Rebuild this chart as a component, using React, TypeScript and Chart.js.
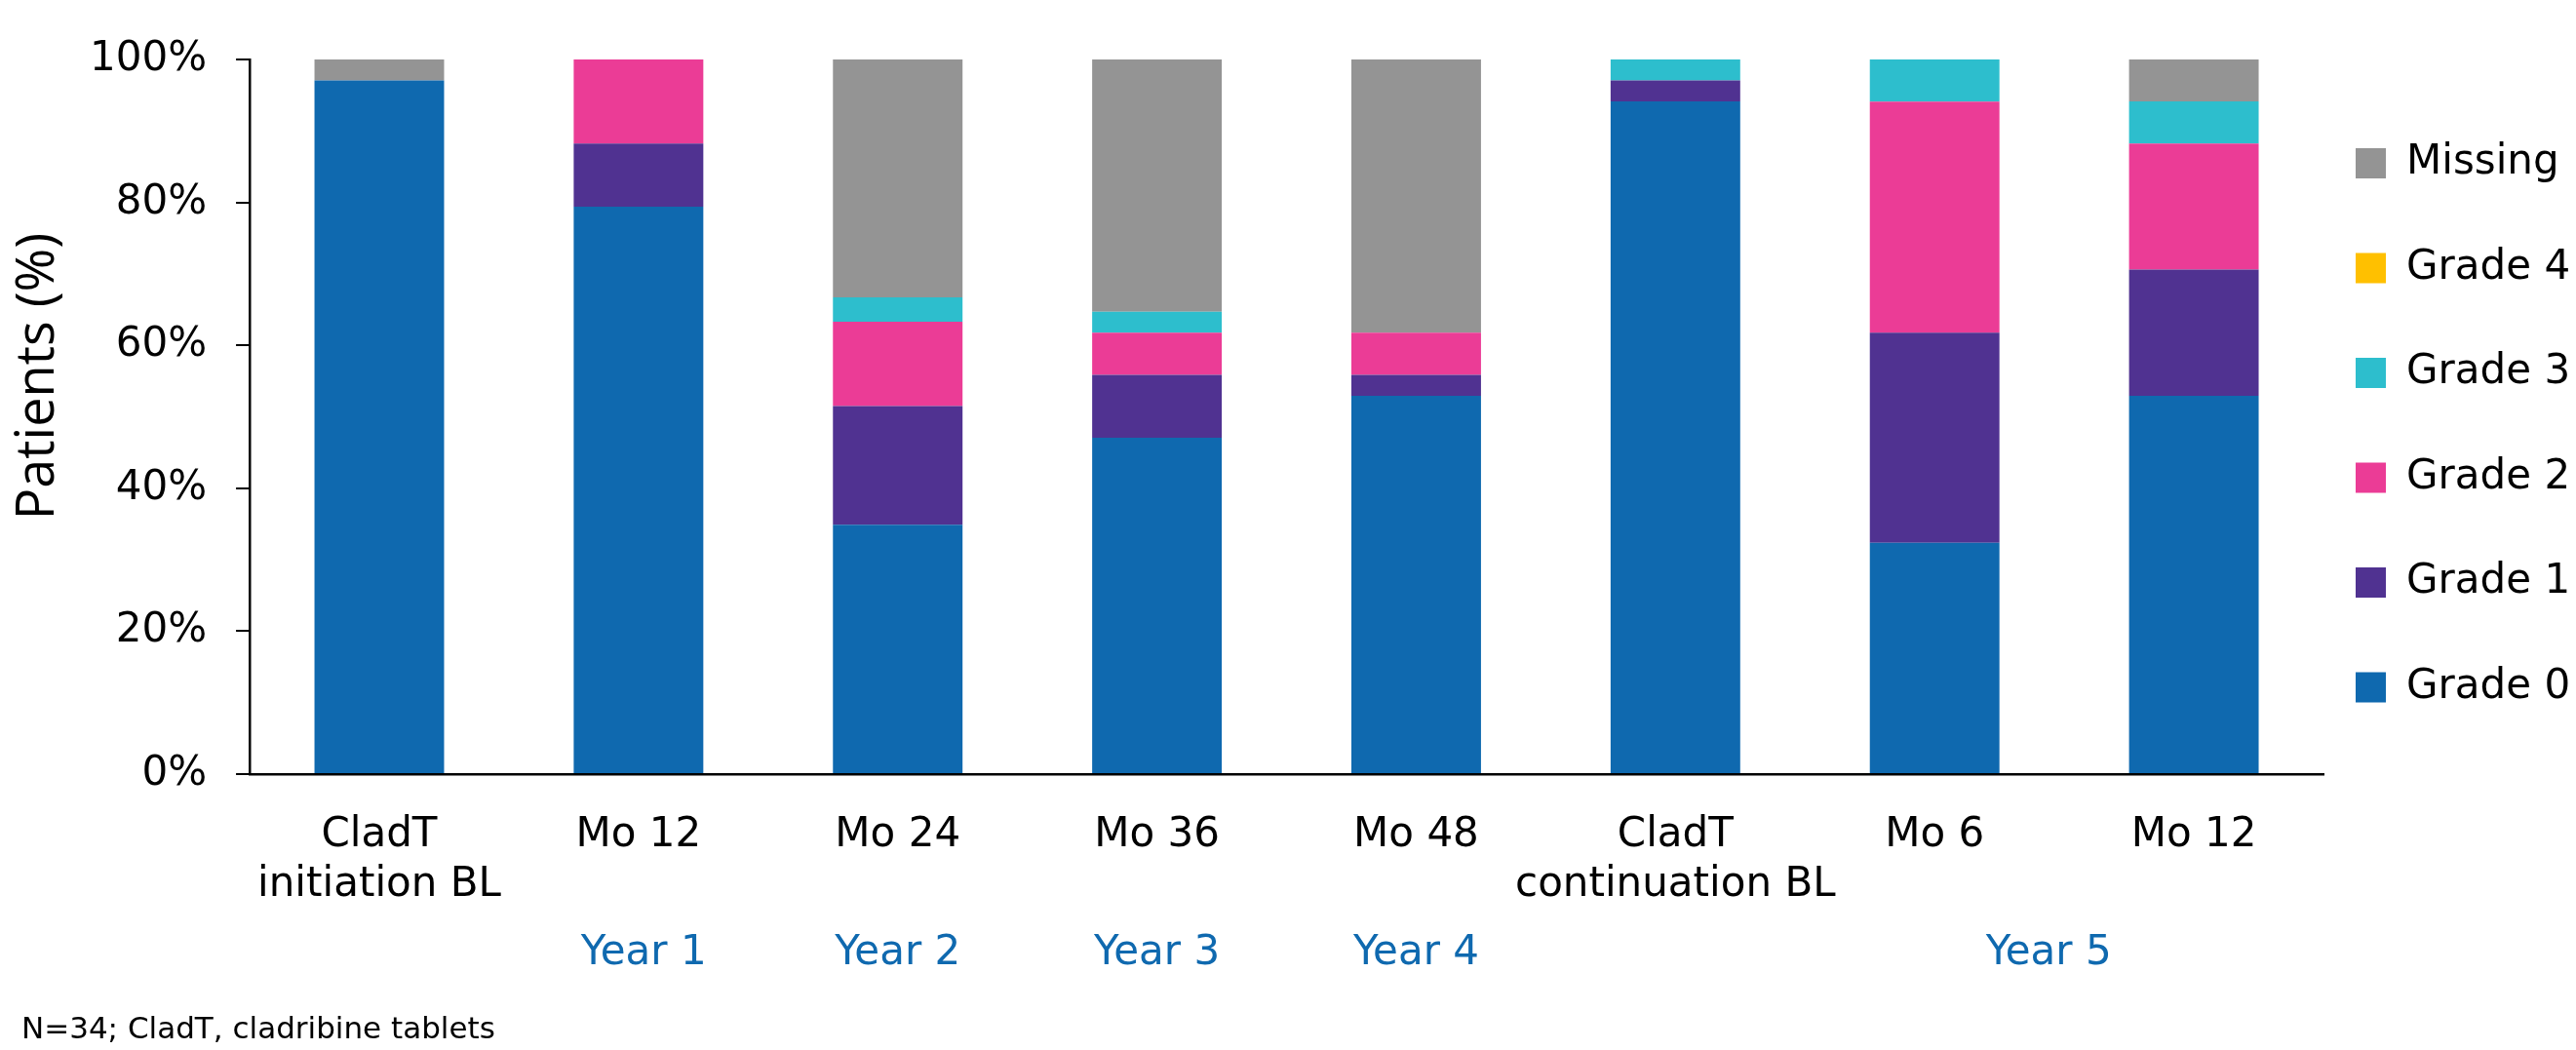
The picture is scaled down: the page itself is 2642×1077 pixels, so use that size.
import React, { useEffect, useRef } from 'react';
import { Chart, registerables } from 'chart.js';

Chart.register(...registerables);

// ---- Data ----
const categories: (string | string[])[] = [
  ['CladT', 'initiation BL'],
  'Mo 12',
  'Mo 24',
  'Mo 36',
  'Mo 48',
  ['CladT', 'continuation BL'],
  'Mo 6',
  'Mo 12',
];
const grade0 = [97.06, 79.41, 34.9, 47.06, 52.94, 94.12, 32.35, 52.94];
const grade1 = [0, 8.82, 16.6, 8.82, 2.94, 2.94, 29.41, 17.65];
const grade2 = [0, 11.76, 11.8, 5.88, 5.88, 0, 32.35, 17.65];
const grade3 = [0, 0, 3.4, 2.94, 0, 2.94, 5.88, 5.88];
const grade4 = [0, 0, 0, 0, 0, 0, 0, 0];
const missing = [2.94, 0, 33.3, 35.29, 38.24, 0, 0, 5.88];

const seriesNames = ['Grade 0', 'Grade 1', 'Grade 2', 'Grade 3', 'Grade 4', 'Missing'];
const seriesValues = [grade0, grade1, grade2, grade3, grade4, missing];
const seriesColors = ['#0f69af', '#503291', '#eb3c96', '#2dbecd', '#ffc000', '#949494'];

const yearLabels = ['Year 1', 'Year 2', 'Year 3', 'Year 4', 'Year 5'];
const yearAt = [1.02, 2, 3, 4, 6.44];
const yTitle = 'Patients (%)';
const footnote = 'N=34; CladT, cladribine tablets';

const FONT = 'Verdana, "DejaVu Sans", sans-serif';

const extrasPlugin = {
  id: 'extras',
  afterDraw(chart: any) {
    const ctx = chart.ctx as CanvasRenderingContext2D;
    const xs = chart.scales.x;
    const area = chart.chartArea;
    ctx.save();
    // Y axis title
    ctx.save();
    ctx.translate(40, 386);
    ctx.rotate(-Math.PI / 2);
    ctx.font = '54px "Open Sans", sans-serif';
    ctx.fillStyle = '#000';
    ctx.textAlign = 'center';
    ctx.textBaseline = 'middle';
    ctx.fillText(yTitle, 0, 0);
    ctx.restore();
    // Year labels
    ctx.font = `42px ${FONT}`;
    ctx.fillStyle = '#0f69af';
    ctx.textAlign = 'center';
    ctx.textBaseline = 'middle';
    yearLabels.forEach((t, i) => {
      ctx.fillText(t, xs.getPixelForValue(yearAt[i]), area.bottom + 184);
    });
    // Footnote
    ctx.font = `31px ${FONT}`;
    ctx.fillStyle = '#000';
    ctx.textAlign = 'left';
    ctx.fillText(footnote, 22, chart.height - 20);
    // Legend (reversed order: Missing on top)
    const ds = chart.data.datasets;
    const boxX = area.right + 33;
    const box = 31;
    ctx.font = `42px ${FONT}`;
    for (let k = 0; k < ds.length; k++) {
      const d = ds[ds.length - 1 - k];
      const cy = 167.5 + k * 107.5;
      ctx.fillStyle = d.backgroundColor;
      ctx.fillRect(boxX, cy - box / 2, box, box);
      ctx.fillStyle = '#000';
      ctx.fillText(d.label, boxX + box + 21, cy);
    }
    ctx.restore();
  },
};

export default function App() {
  const ref = useRef<HTMLCanvasElement | null>(null);
  useEffect(() => {
    if (!ref.current) return;
    const chart = new Chart(ref.current, {
      type: 'bar',
      data: {
        labels: categories,
        datasets: seriesNames.map((name, i) => ({
          label: name,
          data: seriesValues[i],
          backgroundColor: seriesColors[i],
          borderWidth: 0,
          barPercentage: 0.5,
          categoryPercentage: 1,
        })),
      },
      options: {
        animation: false,
        responsive: true,
        maintainAspectRatio: false,
        layout: { padding: { left: 62, right: 259, top: 61, bottom: 105 } },
        plugins: {
          legend: { display: false },
          tooltip: { enabled: false },
        },
        scales: {
          x: {
            stacked: true,
            grid: { display: false, drawTicks: false },
            border: { display: true, color: '#000', width: 2.5 },
            ticks: {
              color: '#000',
              padding: 38,
              maxRotation: 0,
              autoSkip: false,
              font: { family: FONT, size: 42, lineHeight: 51 / 42 },
            },
          },
          y: {
            stacked: true,
            min: 0,
            max: 100,
            grid: {
              display: true,
              drawOnChartArea: false,
              drawTicks: true,
              tickLength: 14,
              color: '#000',
              lineWidth: 2,
            },
            border: { display: true, color: '#000', width: 2.5 },
            ticks: {
              stepSize: 20,
              color: '#000',
              padding: 30,
              font: { family: FONT, size: 42 },
              callback: (v: any) => `${v}%`,
            },
            title: { display: false },
          },
        },
      },
      plugins: [extrasPlugin],
    });
    return () => chart.destroy();
  }, []);
  return (
    <div style={{ position: 'absolute', left: 0, top: 0, width: 2642, height: 1077, background: '#fff' }}>
      <canvas ref={ref} />
    </div>
  );
}
